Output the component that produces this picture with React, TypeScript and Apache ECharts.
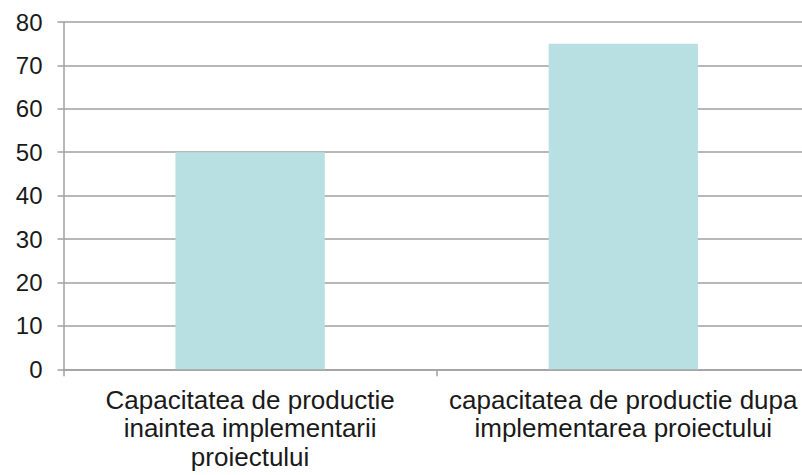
import React, { useEffect, useRef } from "react";
import * as echarts from "echarts";

const categories = [
  "Capacitatea de productie\ninaintea implementarii\nproiectului",
  "capacitatea de productie dupa\nimplementarea proiectului",
];
const values = [50, 75];
const yMin = 0;
const yMax = 80;
const yInterval = 10;

export default function App() {
  const ref = useRef<HTMLDivElement>(null);
  useEffect(() => {
    if (!ref.current) return;
    const chart = echarts.init(ref.current, undefined, { renderer: "svg" });
    const font = "'Liberation Sans', Arial, sans-serif";
    chart.setOption({
      animation: false,
      backgroundColor: "#ffffff",
      grid: {
        left: 63.5,
        top: 22,
        height: 347.3,
        width: 746.4,
        containLabel: false,
        outerBoundsMode: "none",
      },
      xAxis: {
        type: "category",
        data: categories,
        axisLine: { show: true, lineStyle: { color: "#a0a0a0", width: 1.5 } },
        axisTick: { show: true, length: 7, alignWithLabel: false, lineStyle: { color: "#a0a0a0", width: 1.5 } },
        axisLabel: {
          color: "#1a1a1a",
          fontFamily: font,
          fontSize: 26,
          lineHeight: 28.5,
          margin: 16,
          interval: 0,
        },
        splitLine: { show: false },
      },
      yAxis: {
        type: "value",
        min: yMin,
        max: yMax,
        interval: yInterval,
        axisLine: { show: true, lineStyle: { color: "#a0a0a0", width: 1.5 } },
        axisTick: { show: true, length: 6, lineStyle: { color: "#a0a0a0", width: 1.5 } },
        axisLabel: { color: "#1a1a1a", fontFamily: font, fontSize: 24, margin: 21 },
        splitLine: { show: true, lineStyle: { color: "#a0a0a0", width: 1.5 } },
      },
      series: [
        {
          type: "bar",
          data: values,
          barCategoryGap: "60%",
          itemStyle: { color: "#b8dfe2" },
        },
      ],
    });
    return () => chart.dispose();
  }, []);
  return (
    <div
      ref={ref}
      style={{ position: "absolute", left: 0, top: 0, width: 802, height: 475 }}
    />
  );
}
